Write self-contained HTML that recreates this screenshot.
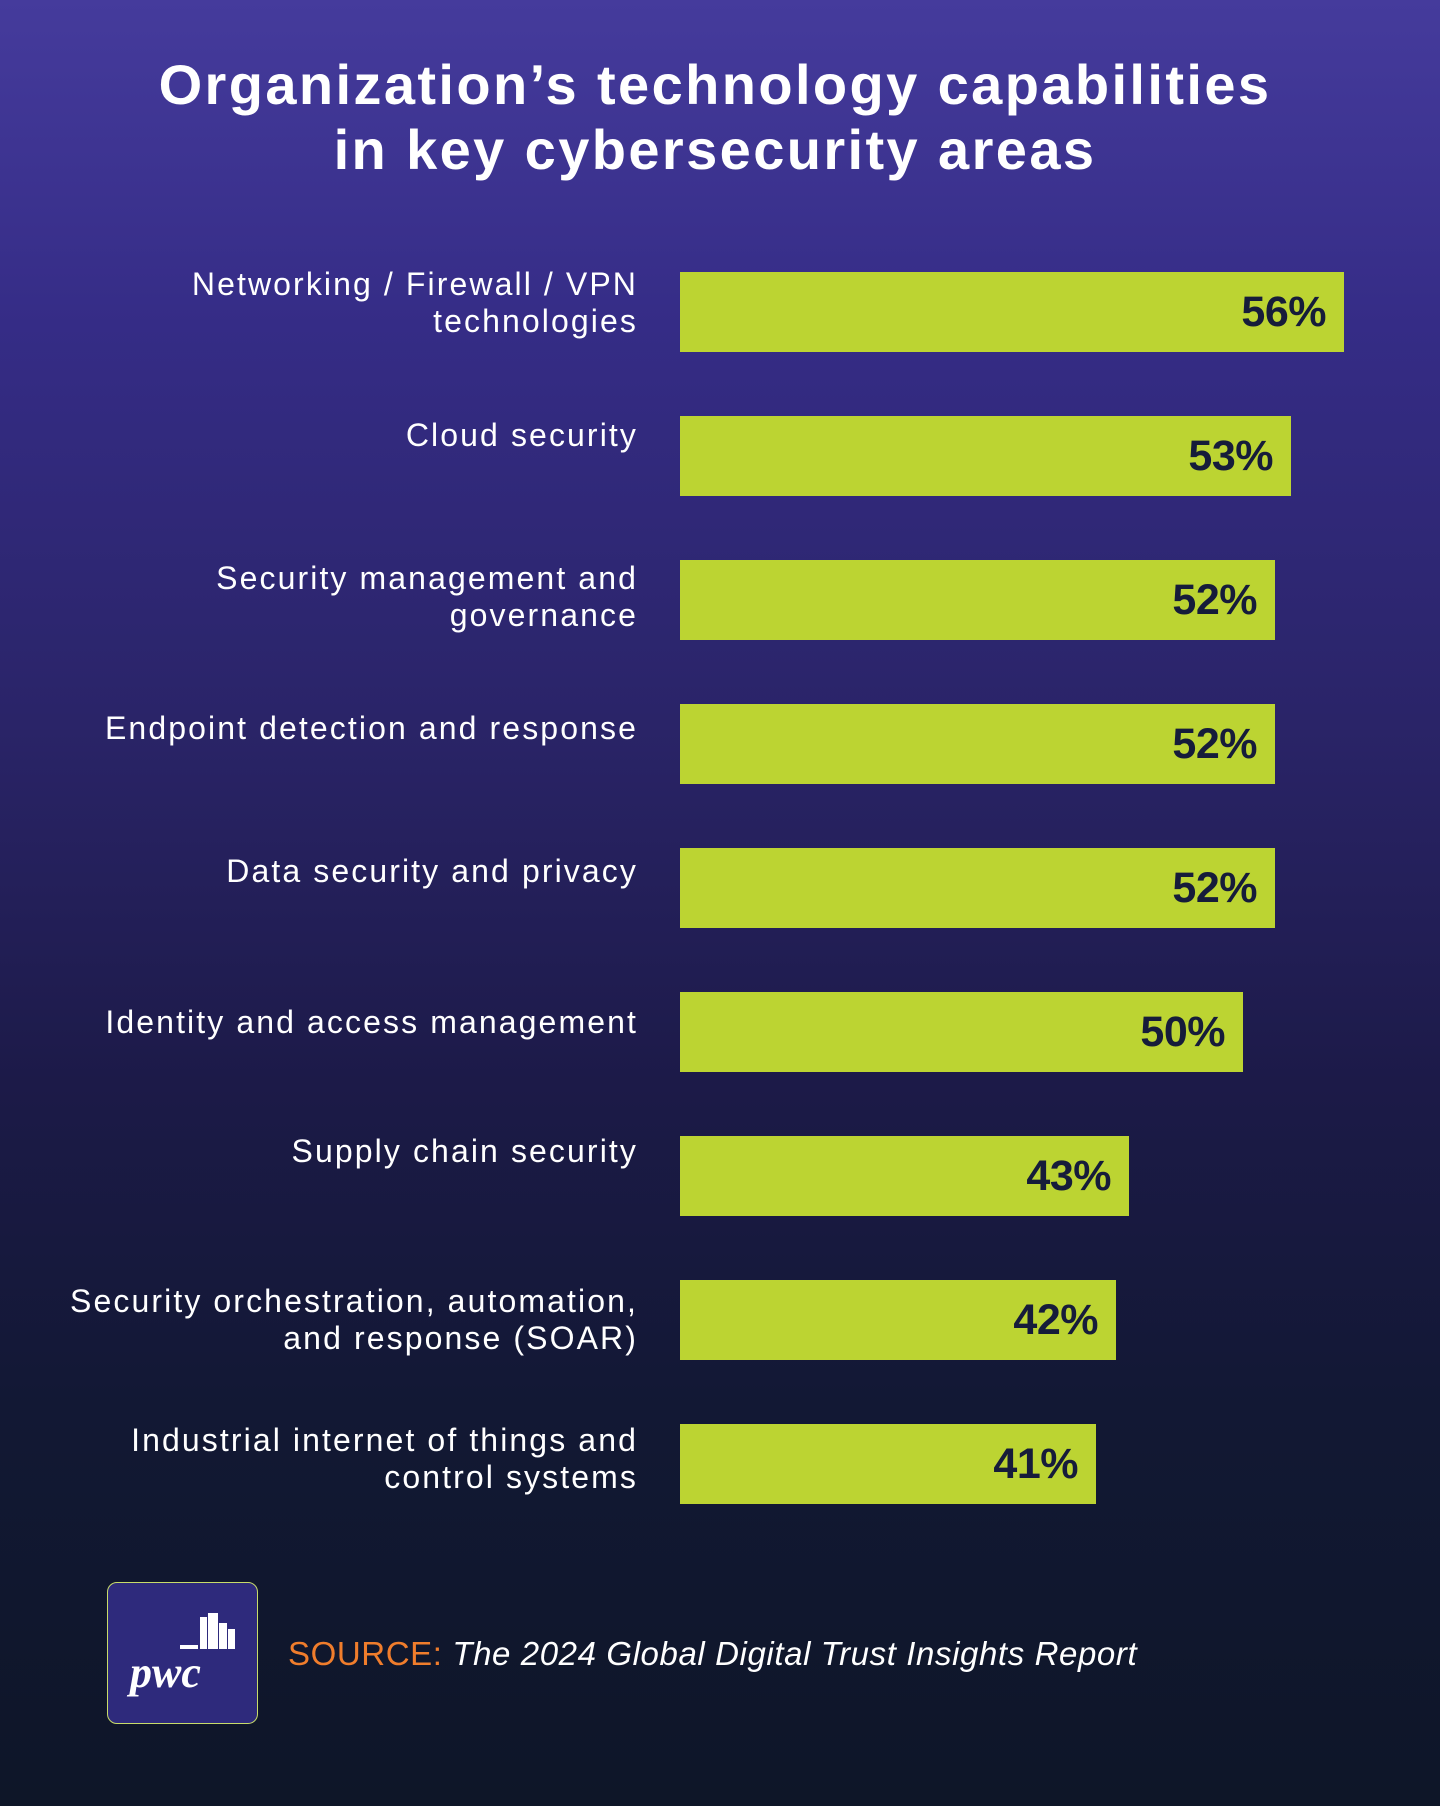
<!DOCTYPE html>
<html><head><meta charset="utf-8"><style>
*{margin:0;padding:0;box-sizing:border-box}
body{width:1440px;height:1806px;overflow:hidden;font-family:"Liberation Sans",sans-serif;
background:linear-gradient(180deg,#453b9c 0%,#352c86 18%,#2a2468 40%,#1c1a48 60%,#121834 78%,#0e1628 100%);color:#fff;position:relative}
.title{position:absolute;top:52px;left:0;width:1430px;text-align:center;font-weight:bold;font-size:56px;line-height:65px;letter-spacing:2.4px}
.lab{position:absolute;right:802px;text-align:right;font-size:32px;line-height:37px;width:700px;letter-spacing:2.1px}
.bar{position:absolute;left:680px;height:80px;background:#bcd432;color:#161c3a;font-weight:bold;font-size:43px;text-align:right;padding-right:18px;line-height:80px;letter-spacing:-0.5px}
.logo{position:absolute;left:107px;top:1582px;width:151px;height:142px;border:1.5px solid #c8dc6a;border-radius:10px;background:#2e2a7c}
.src{position:absolute;left:288px;top:1634px;font-size:33px;line-height:40px;letter-spacing:0.6px}
</style></head><body>
<div class="title">Organization’s technology capabilities<br>in key cybersecurity areas</div>

<div class="lab" style="top:266px">Networking / Firewall / VPN<br>technologies</div>
<div class="bar" style="top:272px;width:664px">56%</div>
<div class="lab" style="top:417px">Cloud security</div>
<div class="bar" style="top:416px;width:611px">53%</div>
<div class="lab" style="top:560px">Security management and<br>governance</div>
<div class="bar" style="top:560px;width:595px">52%</div>
<div class="lab" style="top:710px">Endpoint detection and response</div>
<div class="bar" style="top:704px;width:595px">52%</div>
<div class="lab" style="top:853px">Data security and privacy</div>
<div class="bar" style="top:848px;width:595px">52%</div>
<div class="lab" style="top:1004px">Identity and access management</div>
<div class="bar" style="top:992px;width:563px">50%</div>
<div class="lab" style="top:1133px">Supply chain security</div>
<div class="bar" style="top:1136px;width:449px">43%</div>
<div class="lab" style="top:1283px">Security orchestration, automation,<br>and response (SOAR)</div>
<div class="bar" style="top:1280px;width:436px">42%</div>
<div class="lab" style="top:1422px">Industrial internet of things and<br>control systems</div>
<div class="bar" style="top:1424px;width:416px">41%</div>

<div class="logo">
<svg width="151" height="142" viewBox="0 0 151 142">
<rect x="92" y="34" width="7" height="32" fill="#fff"/>
<rect x="100" y="30" width="10" height="36" fill="#fff"/>
<rect x="111" y="40" width="8" height="26" fill="#fff"/>
<rect x="120" y="46" width="7" height="20" fill="#fff"/>
<rect x="72" y="62" width="18" height="4" fill="#fff"/>
<text x="22" y="104" fill="#fff" font-family="Liberation Serif,serif" font-weight="bold" font-style="italic" font-size="44">pwc</text>
</svg></div>
<div class="src"><span style="color:#f07d2c">SOURCE:</span> <i>The 2024 Global Digital Trust Insights Report</i></div>
</body></html>
